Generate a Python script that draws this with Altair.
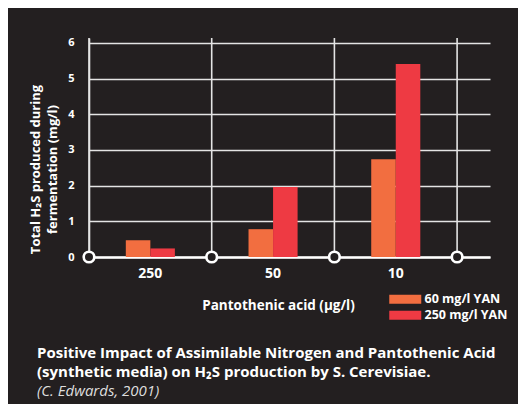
import altair as alt
import pandas as pd

# ---- data ----
categories = ["250", "50", "10"]
yan_60 = [0.47, 0.78, 2.74]
yan_250 = [0.24, 1.96, 5.41]
series_names = ["60 mg/l YAN", "250 mg/l YAN"]
series_colors = ["#f26e40", "#ee3a43"]
boundaries = [0, 1, 2, 3]
y_ticks = [0, 1, 2, 3, 4, 5, 6]

rows = []
for c, a, b in zip(categories, yan_60, yan_250):
    rows.append({"cat": c, "series": series_names[0], "value": a})
    rows.append({"cat": c, "series": series_names[1], "value": b})
bars_df = pd.DataFrame(rows)
bnd_df = pd.DataFrame({"b": boundaries, "zero": [0] * len(boundaries)})

W, H = 401, 219
FONT = "Open Sans"
BG = "#231f20"
LINE = "#e4e4e4"

yscale = alt.Scale(domain=[0, 6.14], nice=False)
bscale = alt.Scale(domain=[0, 401 / 122.7], nice=False, zero=False)

yaxis = alt.Axis(
    values=y_ticks,
    title=["Total H₂S produced during", "fermentation (mg/l)"],
    titleFont=FONT, titleFontSize=13, titleFontWeight="bold", titleColor="white",
    titleX=-54, titleY=131, titleBaseline="middle", titleAlign="center", titleLineHeight=17,
    labelFont=FONT, labelFontSize=11, labelFontWeight="bold", labelColor="white",
    labelPadding=15, ticks=False, labelOverlap=False,
    domain=True, domainColor=LINE, domainWidth=1.6,
    grid=True, gridColor=LINE, gridWidth=1.6,
)

vlines = alt.Chart(bnd_df).mark_rule(color=LINE, strokeWidth=1.6).encode(
    x=alt.X("b:Q", scale=bscale, axis=None)
)

bars = alt.Chart(bars_df).mark_bar().encode(
    x=alt.X(
        "cat:N",
        sort=categories,
        scale=alt.Scale(paddingInner=0.6, paddingOuter=0.434, align=0.3456),
        axis=alt.Axis(
            title="Pantothenic acid (µg/l)",
            titleFont=FONT, titleFontSize=13.5, titleFontWeight="bold", titleColor="white",
            titleX=189, titleY=52, titleBaseline="alphabetic",
            labelFont=FONT, labelFontSize=14, labelFontWeight="bold", labelColor="white",
            labelAngle=0, labelPadding=9, ticks=False,
            domain=True, domainColor="white", domainWidth=2.6, grid=False,
        ),
    ),
    xOffset=alt.XOffset(
        "series:N", sort=series_names,
        scale=alt.Scale(paddingInner=0, paddingOuter=0),
    ),
    y=alt.Y("value:Q", scale=yscale, axis=yaxis),
    color=alt.Color(
        "series:N",
        sort=series_names,
        scale=alt.Scale(domain=series_names, range=series_colors),
        legend=alt.Legend(
            title=None, orient="none", legendX=310, legendY=255,
            symbolType="M-3.2,-0.9L3.2,-0.9L3.2,0.9L-3.2,0.9Z", symbolSize=100,
            symbolStrokeWidth=0, symbolOpacity=1,
            labelFont=FONT, labelFontSize=12.5, labelFontWeight="bold", labelColor="white",
            labelOffset=13, rowPadding=3,
        ),
    ),
)

circles = alt.Chart(bnd_df).mark_point(
    shape="circle", size=112, filled=True, fill=BG, stroke="white",
    strokeWidth=2.6, opacity=1, fillOpacity=1, strokeOpacity=1,
).encode(
    x=alt.X("b:Q", scale=bscale, axis=None),
    y=alt.Y("zero:Q", scale=yscale, axis=yaxis),
)

chart = alt.layer(vlines, bars, circles).resolve_scale(x="independent").properties(
    width=W,
    height=H,
    padding={"left": 81, "top": 30, "right": 28, "bottom": 147},
    autosize=alt.AutoSizeParams(type="none"),
    background=BG,
    title=alt.Title(
        text=[
            "Positive Impact of Assimilable Nitrogen and Pantothenic Acid",
            "(synthetic media) on H₂S production by S. Cerevisiae.",
        ],
        subtitle="(C. Edwards, 2001)",
        orient="bottom", anchor="start", frame="group", dx=-52, offset=24,
        font=FONT, fontSize=15, fontWeight="bold", color="white", lineHeight=18.5,
        subtitleFont=FONT, subtitleFontSize=15, subtitleFontStyle="italic",
        subtitleColor="#dddddd", subtitlePadding=4,
    ),
).configure_view(stroke=None)

chart.save("out.html", embed_options={"renderer": "svg", "actions": False})
